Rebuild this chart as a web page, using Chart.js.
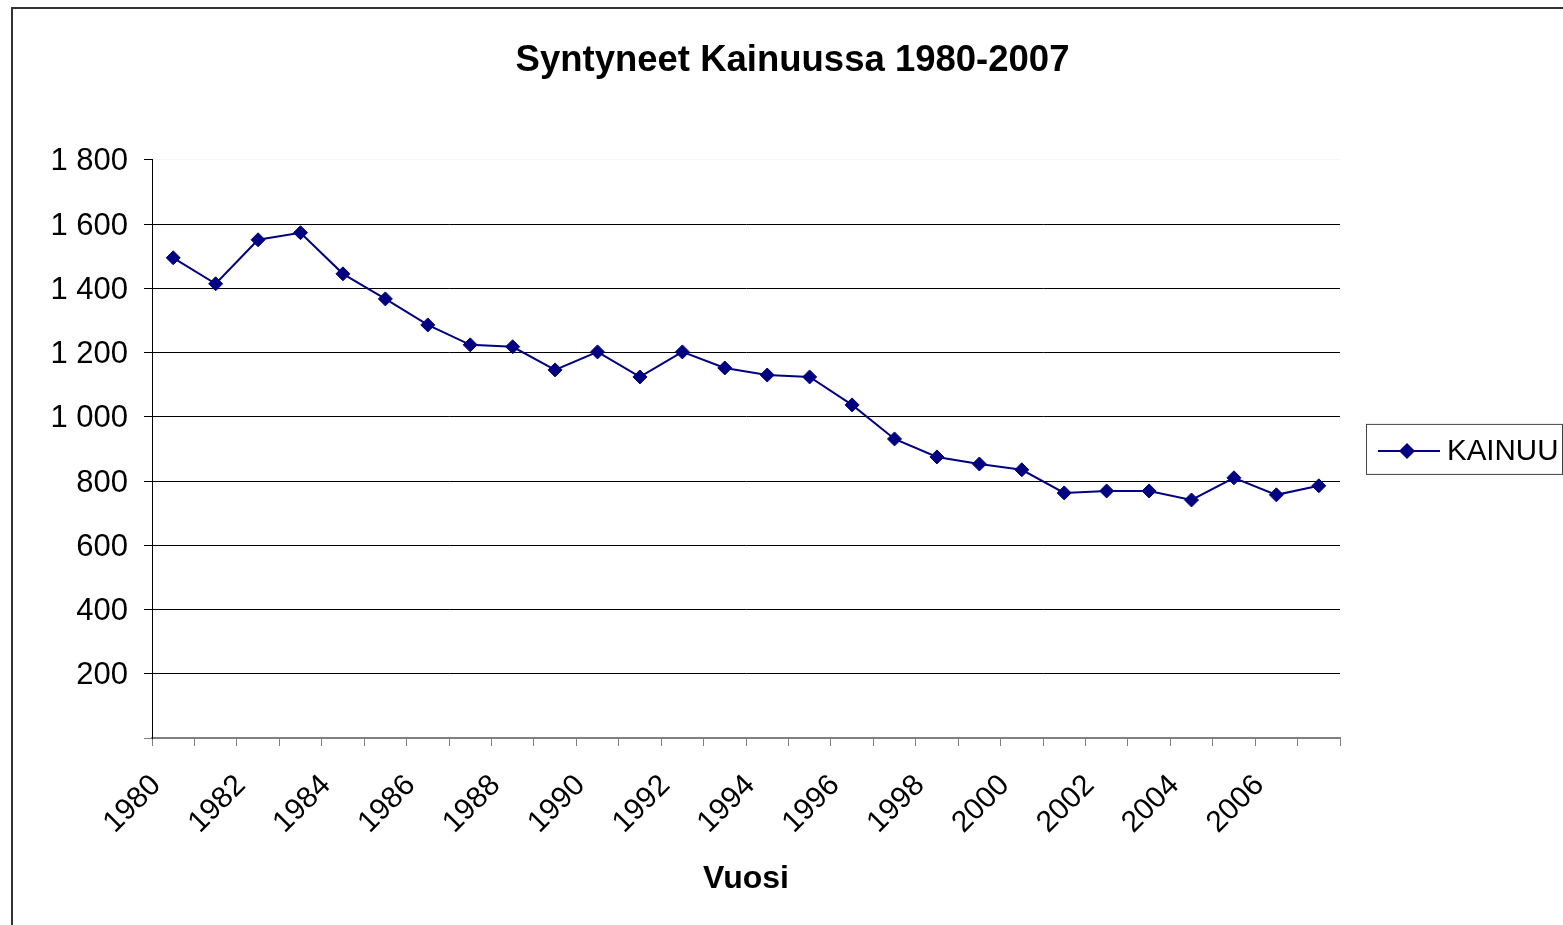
<!DOCTYPE html>
<html>
<head>
<meta charset="utf-8">
<title>Syntyneet Kainuussa 1980-2007</title>
<script src="https://cdn.jsdelivr.net/npm/chart.js@4"></script>
<style>
    html, body { margin: 0; padding: 0; background: #fff; }
    #wrap { width: 1563px; height: 925px; }
</style>
</head>
<body>
<div id="wrap"><canvas id="chart" width="1563" height="925"></canvas></div>
<script>
// data
var years = ['1980', '1981', '1982', '1983', '1984', '1985', '1986', '1987', '1988', '1989',
    '1990', '1991', '1992', '1993', '1994', '1995', '1996', '1997', '1998', '1999',
    '2000', '2001', '2002', '2003', '2004', '2005', '2006', '2007'];
var births = [1495, 1414, 1551, 1573, 1445, 1367, 1286, 1224, 1218, 1146,
    1202, 1124, 1202, 1152, 1130, 1124, 1037, 931, 875, 853,
    835, 763, 769, 769, 741, 810, 757, 785];
var seriesName = 'KAINUU';
var yTicksMax = 1800;
var yTicksStep = 200;

var FONT = "'Liberation Sans', Arial, sans-serif";
var NAVY = '#000080';

function spaced(v) {
    return String(v).replace(/\B(?=(\d{3})+(?!\d))/g, ' ');
}

// outer frame like the excel chart area
var framePlugin = {
    id: 'frame',
    beforeDraw: function (chart) {
        var ctx = chart.ctx;
        ctx.save();
        ctx.strokeStyle = '#333';
        ctx.lineWidth = 2;
        ctx.strokeRect(12, 8, chart.width + 20, chart.height + 20);
        ctx.restore();
    }
};

// excel style legend: box with line + diamond
var legendBoxPlugin = {
    id: 'legendBox',
    afterDraw: function (chart) {
        var ctx = chart.ctx;
        var area = chart.chartArea;
        var ds = chart.data.datasets[0];
        var cy = (area.top + area.bottom) / 2 + 1;
        var left = area.right + 26;
        var mx = left + 41, my = cy + 1;
        ctx.save();
        ctx.strokeStyle = '#444';
        ctx.lineWidth = 1;
        ctx.strokeRect(left + 0.5, cy - 25.5, chart.width - left - 1, 50);
        ctx.strokeStyle = ds.borderColor;
        ctx.lineWidth = 2;
        ctx.beginPath();
        ctx.moveTo(left + 12, my);
        ctx.lineTo(left + 74, my);
        ctx.stroke();
        ctx.fillStyle = ds.pointBackgroundColor;
        ctx.beginPath();
        ctx.moveTo(mx - 8, my);
        ctx.lineTo(mx, my - 8);
        ctx.lineTo(mx + 8, my);
        ctx.lineTo(mx, my + 8);
        ctx.closePath();
        ctx.fill();
        ctx.fillStyle = '#000';
        ctx.font = '29.5px ' + FONT;
        ctx.textBaseline = 'middle';
        ctx.fillText(ds.label, left + 81, cy + 2);
        ctx.restore();
    }
};

var ctx = document.getElementById('chart').getContext('2d');
var chart = new Chart(ctx, {
    type: 'line',
    data: {
        labels: years,
        datasets: [{
            label: seriesName,
            data: births,
            borderColor: NAVY,
            borderWidth: 2,
            backgroundColor: NAVY,
            pointBackgroundColor: NAVY,
            pointBorderColor: NAVY,
            pointStyle: 'rectRot',
            pointRadius: 7,
            pointBorderWidth: 1,
            tension: 0,
            fill: false
        }]
    },
    options: {
        responsive: false,
        animation: false,
        devicePixelRatio: 1,
        layout: {
            padding: { left: 22, right: 0, top: 0, bottom: 27 }
        },
        plugins: {
            legend: { display: false },
            tooltip: { enabled: false },
            title: {
                display: true,
                text: 'Syntyneet Kainuussa 1980-2007',
                color: '#000',
                font: { family: FONT, size: 36.5, weight: 'bold' },
                padding: { top: 39, bottom: 77 }
            }
        },
        scales: {
            x: {
                type: 'category',
                offset: true,
                grid: {
                    offset: true,
                    drawOnChartArea: false,
                    color: '#808080',
                    tickLength: 8
                },
                border: { color: '#808080', width: 2 },
                ticks: {
                    autoSkip: false,
                    minRotation: 45,
                    maxRotation: 45,
                    padding: 22,
                    labelOffset: -17,
                    color: '#000',
                    font: { family: FONT, size: 30 },
                    callback: function (val, i) {
                        return i % 2 === 0 ? this.getLabelForValue(val) : '';
                    }
                },
                title: {
                    display: true,
                    text: 'Vuosi',
                    color: '#000',
                    font: { family: FONT, size: 32, weight: 'bold' },
                    padding: 0
                },
                afterFit: function (scale) {
                    scale.height = 160;
                }
            },
            y: {
                min: 0,
                max: yTicksMax,
                grid: {
                    color: function (c) {
                        if (c.tick.value === yTicksMax) return 'rgba(0,0,0,0.04)';
                        if (c.tick.value === 0) return 'rgba(0,0,0,0)';
                        return '#000';
                    },
                    tickColor: function (c) {
                        return c.tick.value === 0 ? '#808080' : '#000';
                    },
                    tickLength: 8
                },
                border: { color: '#000', width: 1 },
                ticks: {
                    stepSize: yTicksStep,
                    padding: 16,
                    labelOffset: 2,
                    color: '#000',
                    font: { family: FONT, size: 31 },
                    callback: function (v) {
                        return v === 0 ? '' : spaced(v);
                    }
                },
                afterFit: function (scale) {
                    scale.width = 130;
                }
            },
            legendSpace: {
                type: 'linear',
                position: 'right',
                display: true,
                grid: { display: false },
                border: { display: false },
                ticks: { display: false },
                afterFit: function (scale) {
                    scale.width = 223;
                }
            }
        }
    },
    plugins: [framePlugin, legendBoxPlugin]
});
</script>
</body>
</html>
